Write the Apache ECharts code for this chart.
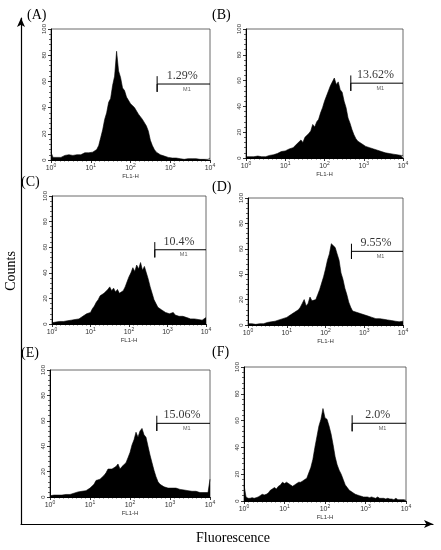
<!DOCTYPE html>
<html><head><meta charset="utf-8">
<script src="https://cdn.jsdelivr.net/npm/echarts@6/dist/echarts.min.js"></script>
<style>html,body{margin:0;padding:0;background:#fff}#c{width:441px;height:550px}</style>
</head><body><div id="c"></div>
<script>
// ---- data ----
const panelLabels = ['(A)', '(B)', '(C)', '(D)', '(E)', '(F)'];
const percentLabels = ['1.29%', '13.62%', '10.4%', '9.55%', '15.06%', '2.0%'];
const xTickExponents = ['0', '1', '2', '3', '4'];
const gateName = 'M1';
const gateStart = 2.67;   // log10 of gate start channel
const gateLevel = 58;
const binStep = 0.05;     // decades per channel bin

const countsA = [6, 2, 1.5, 2, 2.5, 2, 3, 3.5, 3, 4, 4.5,
  3.5, 4.5, 4, 5, 4, 4.5, 5.5, 5, 5.5, 5,
  6, 5.5, 8, 11, 17, 23, 31, 36, 44, 47,
  57, 64, 83, 68, 63, 55, 53, 48, 47, 43,
  44, 40, 39, 35, 35, 31, 30, 26, 22, 15,
  11, 8, 6, 5, 4, 3.5, 3, 2.5, 2, 2,
  1.5, 1, 1.5, 1, 1, 1.5, 0.5, 1, 1, 0.5,
  1, 0.5, 1, 1, 0.5, 1, 0.5, 1, 0.5, 1.5];
const countsB = [1, 0.5, 1, 1.5, 1, 1, 1.5, 1, 1, 1.5, 1,
  1.5, 2, 2, 2.5, 3, 3.5, 4, 5, 5, 5.5,
  6, 7, 7.5, 8, 9, 11, 12, 14, 12, 16,
  17, 19, 21, 26, 24, 28, 30, 35, 39, 44,
  48, 52, 56, 57, 62, 57, 59, 53, 51, 44,
  39, 31, 27, 22, 18, 15, 13, 12, 11, 10,
  9, 9, 8, 7, 7, 6, 6, 5, 5, 4.5,
  4, 4, 3.5, 3.5, 3, 3, 2.5, 3, 2, 2];
const countsC = [1, 1, 1.5, 1, 2, 1.5, 2, 2, 2.5, 2, 3,
  3, 3.5, 3, 4, 4.5, 6, 7, 8, 8, 9,
  12, 14, 17, 19, 22, 21, 24, 23, 27, 29,
  26, 28, 25, 27, 24, 25, 26, 29, 33, 37,
  40, 44, 41, 46, 43, 48, 42, 45, 40, 35,
  29, 24, 19, 16, 13, 12, 11, 10, 9, 9,
  8, 8, 9, 7, 7, 6, 7, 6, 5, 5,
  5, 4, 5, 4, 4, 3.5, 4, 3, 4, 5];
const countsD = [1, 0.5, 1, 1, 0.5, 1, 1, 1.5, 1, 1.5, 2,
  2, 2.5, 3, 3, 3.5, 4, 4.5, 5, 5.5, 6,
  7, 8, 9, 10, 11, 12, 14, 17, 20, 15,
  17, 22, 19, 18, 20, 24, 28, 33, 38, 44,
  51, 56, 64, 63, 61, 56, 51, 41, 36, 29,
  24, 18, 14, 11, 10, 10, 9, 9, 8, 8,
  7, 7, 6, 6, 6, 5, 5, 5, 4.5, 4.5,
  4, 4, 3.5, 3.5, 3, 3, 3, 2.5, 3, 3];
const countsE = [1, 1, 1.5, 1, 1.5, 2, 1.5, 2, 2, 2.5, 2,
  3, 3, 3.5, 4, 4, 4.5, 5, 5, 6, 7,
  8, 10, 13, 12, 14, 15, 17, 19, 22, 21,
  22, 21, 24, 26, 22, 24, 23, 27, 31, 35,
  41, 45, 51, 47, 52, 54, 49, 47, 40, 33,
  27, 21, 16, 12, 10, 9, 8, 8, 7, 7,
  7, 6.5, 7, 6, 6, 6, 5.5, 5, 5, 5,
  4.5, 4, 4.5, 4, 3.5, 4, 3.5, 3, 3.5, 14];
const countsF = [12, 3, 2, 2, 2.5, 2, 2.5, 3, 4, 5, 4.5,
  5, 6, 8, 9, 10, 9, 11, 12, 14, 13,
  14, 13, 12, 11, 12, 13, 14, 14, 15, 16,
  17, 21, 25, 31, 40, 48, 56, 61, 69, 62,
  61, 56, 50, 42, 33, 27, 23, 20, 16, 12,
  10, 8, 7, 6, 5, 4.5, 4, 3.5, 3, 3,
  3, 2.5, 3, 2.5, 2, 3, 2, 2, 2, 1.5,
  2, 1.5, 1.5, 1, 2, 1, 1, 1, 1, 0.5];
const allCounts = [countsA, countsB, countsC, countsD, countsE, countsF];

// ---- layout (pixels) ----
const layout = [
  {l: 51, t: 29, w: 159, h: 131, lx: 27, ly: 8},
  {l: 246, t: 29, w: 157, h: 129, lx: 212, ly: 8},
  {l: 52, t: 196, w: 154, h: 128, lx: 21, ly: 175},
  {l: 248, t: 198, w: 155, h: 127, lx: 212, ly: 180},
  {l: 50, t: 370, w: 160, h: 127, lx: 21, ly: 346},
  {l: 244, t: 367, w: 162, h: 134, lx: 212, ly: 345}
];

const serif = 'Liberation Serif';
const sans = 'Liberation Sans';
const grids = [], xAxes = [], yAxes = [], series = [], titles = [];

layout.forEach((p, k) => {
  grids.push({left: p.l, top: p.t, width: p.w, height: p.h, show: true,
    outerBoundsMode: 'none', containLabel: false,
    borderColor: '#444', borderWidth: 0.8, backgroundColor: 'transparent'});
  xAxes.push({gridIndex: k, type: 'value', min: 0, max: 4, interval: 1,
    axisLine: {show: true, onZero: false, lineStyle: {color: '#000', width: 1}},
    axisTick: {show: true, length: 3, lineStyle: {color: '#000', width: 0.8}},
    minorTick: {show: true, splitNumber: 9, length: 1.5, lineStyle: {color: '#000', width: 0.6}},
    splitLine: {show: false},
    axisLabel: {fontFamily: sans, fontSize: 7, color: '#333', margin: 3,
      formatter: v => '{b|10}{s|' + xTickExponents[v] + '}',
      rich: {b: {fontFamily: sans, fontSize: 7, lineHeight: 10, color: '#333'},
             s: {fontFamily: sans, fontSize: 5, lineHeight: 4, verticalAlign: 'top', color: '#333'}}},
    name: 'FL1-H', nameLocation: 'middle', nameGap: 13, nameMoveOverlap: false,
    nameTextStyle: {fontFamily: sans, fontSize: 6, color: '#333'}});
  yAxes.push({gridIndex: k, type: 'value', min: 0, max: 100, interval: 20,
    axisLine: {show: true, onZero: false, lineStyle: {color: '#000', width: 1}},
    axisTick: {show: true, length: 3, lineStyle: {color: '#000', width: 0.8}},
    minorTick: {show: true, splitNumber: 5, length: 2, lineStyle: {color: '#000', width: 0.6}},
    splitLine: {show: false},
    axisLabel: {fontFamily: sans, fontSize: 6, color: '#333', rotate: 90, margin: 4}});
  series.push({type: 'line', xAxisIndex: k, yAxisIndex: k, showSymbol: false,
    data: allCounts[k].map((v, i) => [i * binStep, v]),
    lineStyle: {color: '#000', width: 0.6}, areaStyle: {color: '#000', opacity: 1},
    silent: true});
  series.push({type: 'line', xAxisIndex: k, yAxisIndex: k, showSymbol: false,
    data: [[gateStart, gateLevel + 6], [gateStart, gateLevel - 6], [gateStart, gateLevel], [4, gateLevel]],
    lineStyle: {color: '#000', width: 1}, silent: true});
  series.push({type: 'scatter', xAxisIndex: k, yAxisIndex: k, symbolSize: 0, silent: true,
    data: [
      {value: [3.3, gateLevel], label: {show: true, position: 'top', distance: 2,
        formatter: percentLabels[k], fontFamily: serif, fontSize: 12, color: '#000'}},
      {value: [3.42, gateLevel], label: {show: true, position: 'bottom', distance: 2,
        formatter: gateName, fontFamily: sans, fontSize: 5.5, color: '#333'}}
    ]});
  titles.push({text: panelLabels[k], left: p.lx, top: p.ly, padding: 0,
    textStyle: {fontFamily: serif, fontSize: 14, fontWeight: 'normal', color: '#000'}});
});

// outer axes
grids.push({left: 21, top: 18, right: 8, bottom: 26, show: false,
  outerBoundsMode: 'none', containLabel: false});
xAxes.push({gridIndex: 6, type: 'value', min: 0, max: 1,
  axisLine: {show: true, onZero: false, symbol: ['none', 'arrow'], symbolSize: [6, 9], lineStyle: {color: '#000', width: 1.2}},
  axisTick: {show: false}, axisLabel: {show: false}, splitLine: {show: false},
  name: 'Fluorescence', nameLocation: 'middle', nameGap: 7, nameMoveOverlap: false,
  nameTextStyle: {fontFamily: serif, fontSize: 14, color: '#000', padding: [0, 0, 0, 12]}});
yAxes.push({gridIndex: 6, type: 'value', min: 0, max: 1,
  axisLine: {show: true, onZero: false, symbol: ['none', 'arrow'], symbolSize: [6, 9], lineStyle: {color: '#000', width: 1.2}},
  axisTick: {show: false}, axisLabel: {show: false}, splitLine: {show: false},
  name: 'Counts', nameLocation: 'middle', nameGap: 3, nameMoveOverlap: false,
  nameTextStyle: {fontFamily: serif, fontSize: 14, color: '#000', padding: [0, 0, 0, 0]}});

const chart = echarts.init(document.getElementById('c'));
chart.setOption({
  animation: false,
  backgroundColor: '#fff',
  title: titles,
  grid: grids,
  xAxis: xAxes,
  yAxis: yAxes,
  series: series
});
</script>
</body></html>
